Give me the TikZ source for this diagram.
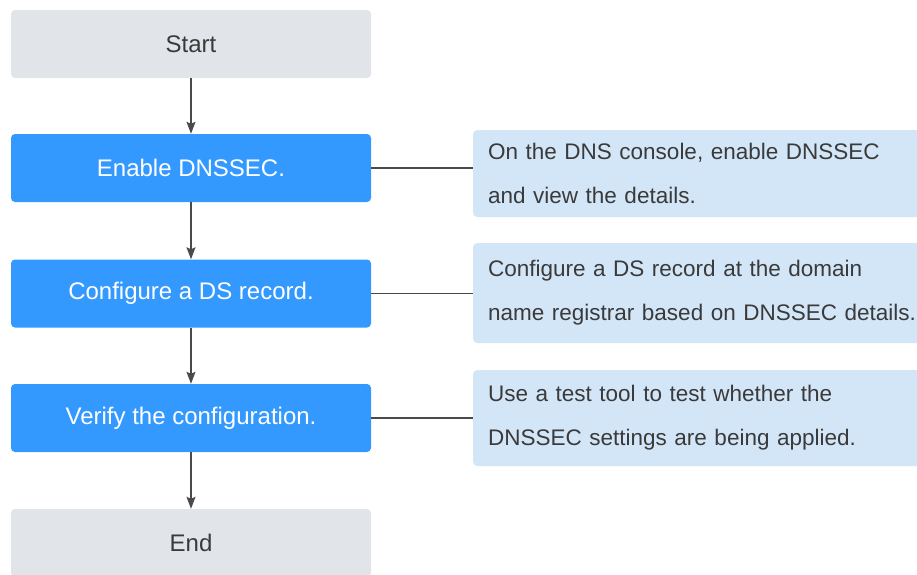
\documentclass[tikz,border=0pt]{standalone}
\usepackage{fontspec}
\setmainfont{Liberation Sans}
\usetikzlibrary{arrows.meta}
\definecolor{greyfill}{HTML}{E1E4E8}
\definecolor{bluefill}{HTML}{3399FF}
\definecolor{notefill}{HTML}{D3E6F8}
\definecolor{darktext}{HTML}{3A3A3A}
\definecolor{linecol}{HTML}{4A4A4A}
\tikzset{
  stepgrey/.style={rectangle, rounded corners=4pt, fill=greyfill, draw=none,
    minimum width=360pt, minimum height=68pt, text=darktext,
    font=\fontsize{24}{28}\selectfont},
  stepblue/.style={stepgrey, fill=bluefill, text=white},
  notebox/.style={rectangle, rounded corners=4pt, fill=notefill, draw=none,
    anchor=west, text width=440pt, inner xsep=15pt, align=left,
    text=darktext, font=\fontsize{22.5}{44}\selectfont},
  flowarrow/.style={draw=linecol, line width=1.4pt,
    -{Stealth[length=12pt,width=9pt,inset=2pt]}},
  conn/.style={draw=linecol, line width=1.4pt}
}
\begin{document}
\begin{tikzpicture}[x=1pt,y=-1pt]
\useasboundingbox (0,0) rectangle (917,574);
\clip (0,0) rectangle (917,574);
\node[stepgrey] (start) at (191,44) {Start};
\node[stepblue] (enable) at (191,168) {Enable DNSSEC.};
\node[stepblue] (config) at (191,293.5) {Configure a DS record.};
\node[stepblue] (verify) at (191,418) {Verify the configuration.};
\node[stepgrey] (end) at (191,543) {End};
\node[notebox, minimum height=87pt] (n1) at (473,173.5) {On the DNS console, enable DNSSEC\\and view the details.};
\node[notebox, minimum height=100pt] (n2) at (473,293) {Configure a DS record at the domain\\name registrar based on DNSSEC details.};
\node[notebox, minimum height=96pt] (n3) at (473,418) {Use a test tool to test whether the\\DNSSEC settings are being applied.};
\draw[flowarrow] (start) -- (enable);
\draw[flowarrow] (enable) -- (config);
\draw[flowarrow] (config) -- (verify);
\draw[flowarrow] (verify) -- (end);
\draw[conn] (enable.east) -- (enable.east -| n1.west);
\draw[conn] (config.east) -- (config.east -| n2.west);
\draw[conn] (verify.east) -- (verify.east -| n3.west);
\end{tikzpicture}
\end{document}
